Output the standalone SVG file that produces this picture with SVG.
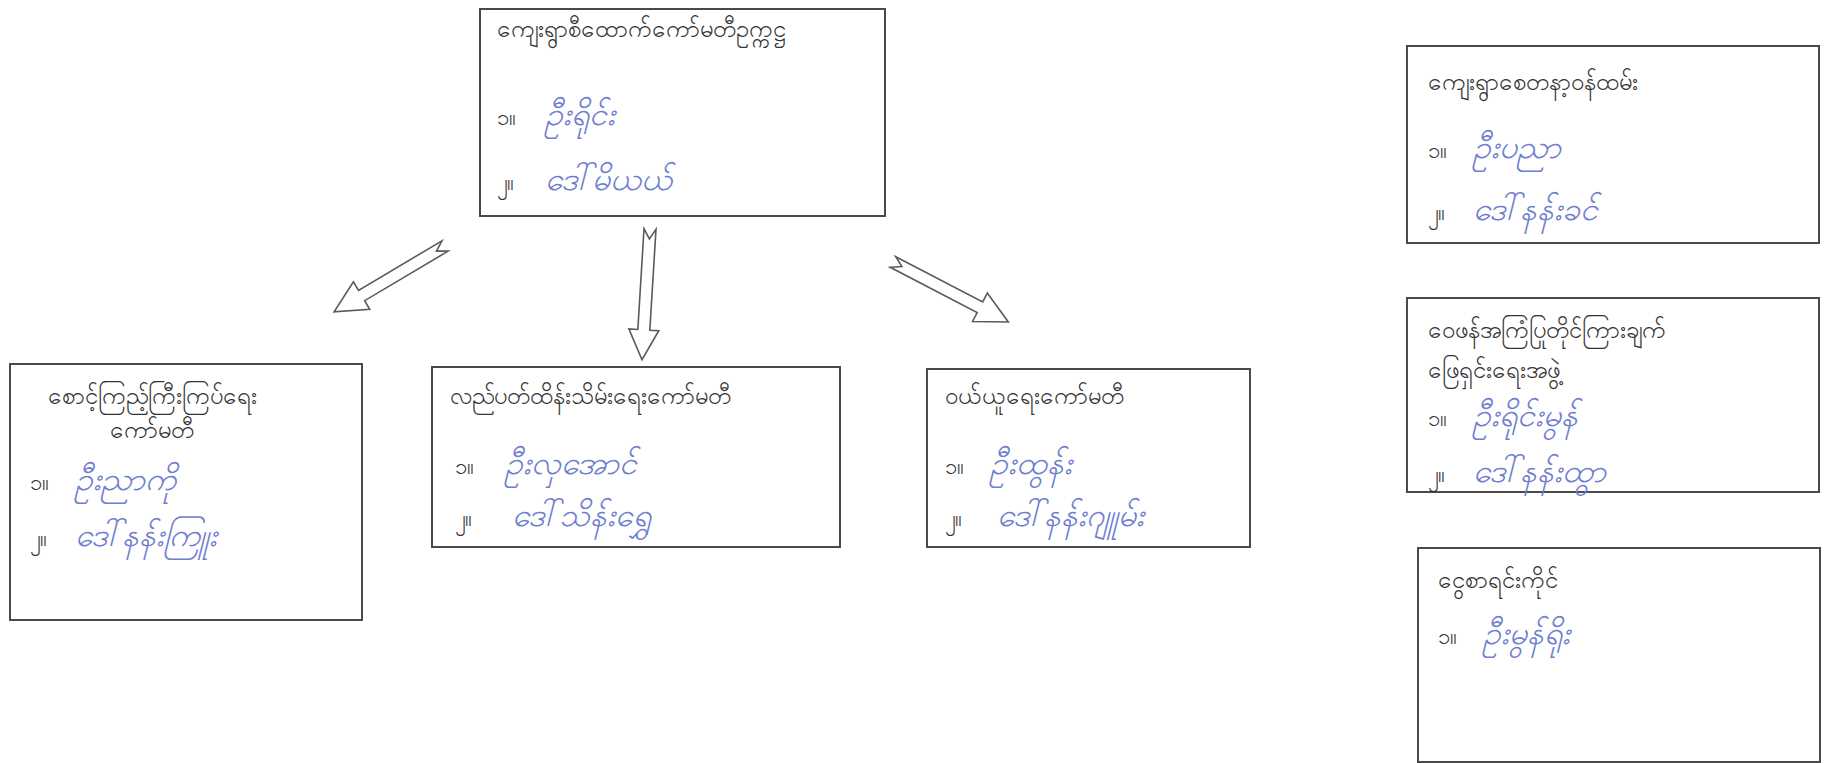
<svg xmlns="http://www.w3.org/2000/svg" width="1835" height="763" viewBox="0 0 1835 763">
<style>
.box{fill:#fff;stroke:#4a4a4a;stroke-width:2}
.hd{font-family:'Noto Sans',sans-serif;font-size:24px;fill:#333}
.num{font-family:'Noto Sans',sans-serif;font-size:22px;fill:#333}
.hw{font-family:'Noto Sans',sans-serif;font-size:32px;fill:#6f7fd0;font-style:italic}
.arrow{fill:#fff;stroke:#5a5a5a;stroke-width:1.6;stroke-linejoin:miter}
</style>
<rect width="1835" height="763" fill="#fff"/>
<g id="connectors">
<polygon class="arrow" transform="translate(445,246) rotate(149.3)" points="0,-6 97,-6 97,-16 129,0 97,16 97,6 0,6 10,0"/>
<polygon class="arrow" transform="translate(650,229) rotate(93.5)" points="0,-6 101,-6 101,-15 131,0 101,15 101,6 0,6 10,0"/>
<polygon class="arrow" transform="translate(893,262) rotate(27.5)" points="0,-6 98,-6 98,-16 130,0 98,16 98,6 0,6 10,0"/>
</g>
<g id="n_chair">
<rect class="box" x="480" y="9" width="405" height="207"/>
<text class="hd" x="497" y="37">ကျေးရွာစီထောက်ကော်မတီဥက္ကဋ္ဌ</text>
<text class="num" x="497" y="125">၁။</text><text class="hw" x="545" y="125">ဦးရိုင်း</text>
<text class="num" x="497" y="190">၂။</text><text class="hw" x="545" y="190">ဒေါ်မိယယ်</text>
</g>
<g id="n_monitor">
<rect class="box" x="10" y="364" width="352" height="256"/>
<text class="hd" x="48" y="404">စောင့်ကြည့်ကြီးကြပ်ရေး</text>
<text class="hd" x="152" y="438" text-anchor="middle">ကော်မတီ</text>
<text class="num" x="30" y="490">၁။</text><text class="hw" x="75" y="490">ဦးညာကို</text>
<text class="num" x="30" y="546">၂။</text><text class="hw" x="75" y="546">ဒေါ်နန်းကြူး</text>
</g>
<g id="n_maint">
<rect class="box" x="432" y="367" width="408" height="180"/>
<text class="hd" x="450" y="404">လည်ပတ်ထိန်းသိမ်းရေးကော်မတီ</text>
<text class="num" x="455" y="474">၁။</text><text class="hw" x="505" y="474">ဦးလှအောင်</text>
<text class="num" x="455" y="526">၂။</text><text class="hw" x="512" y="526">ဒေါ်သိန်းရွှေ</text>
</g>
<g id="n_purchase">
<rect class="box" x="927" y="369" width="323" height="178"/>
<text class="hd" x="945" y="404">ဝယ်ယူရေးကော်မတီ</text>
<text class="num" x="945" y="474">၁။</text><text class="hw" x="990" y="474">ဦးထွန်း</text>
<text class="num" x="945" y="526">၂။</text><text class="hw" x="997" y="526">ဒေါ်နန်းဂျူမ်း</text>
</g>
<g id="n_volunteer">
<rect class="box" x="1407" y="46" width="412" height="197"/>
<text class="hd" x="1428" y="90">ကျေးရွာစေတနာ့ဝန်ထမ်း</text>
<text class="num" x="1428" y="158">၁။</text><text class="hw" x="1473" y="158">ဦးပညာ</text>
<text class="num" x="1428" y="220">၂။</text><text class="hw" x="1473" y="220">ဒေါ်နန်းခင်</text>
</g>
<g id="n_feedback">
<rect class="box" x="1407" y="298" width="412" height="194"/>
<text class="hd" x="1428" y="338">ဝေဖန်အကြံပြုတိုင်ကြားချက်</text>
<text class="hd" x="1428" y="378">ဖြေရှင်းရေးအဖွဲ့</text>
<text class="num" x="1428" y="426">၁။</text><text class="hw" x="1473" y="426">ဦးရိုင်းမွန်</text>
<text class="num" x="1428" y="482">၂။</text><text class="hw" x="1473" y="482">ဒေါ်နန်းထွာ</text>
</g>
<g id="n_treasurer">
<rect class="box" x="1418" y="548" width="402" height="214"/>
<text class="hd" x="1438" y="588">ငွေစာရင်းကိုင်</text>
<text class="num" x="1438" y="644">၁။</text><text class="hw" x="1483" y="644">ဦးမွန်ရိုး</text>
</g>
</svg>
